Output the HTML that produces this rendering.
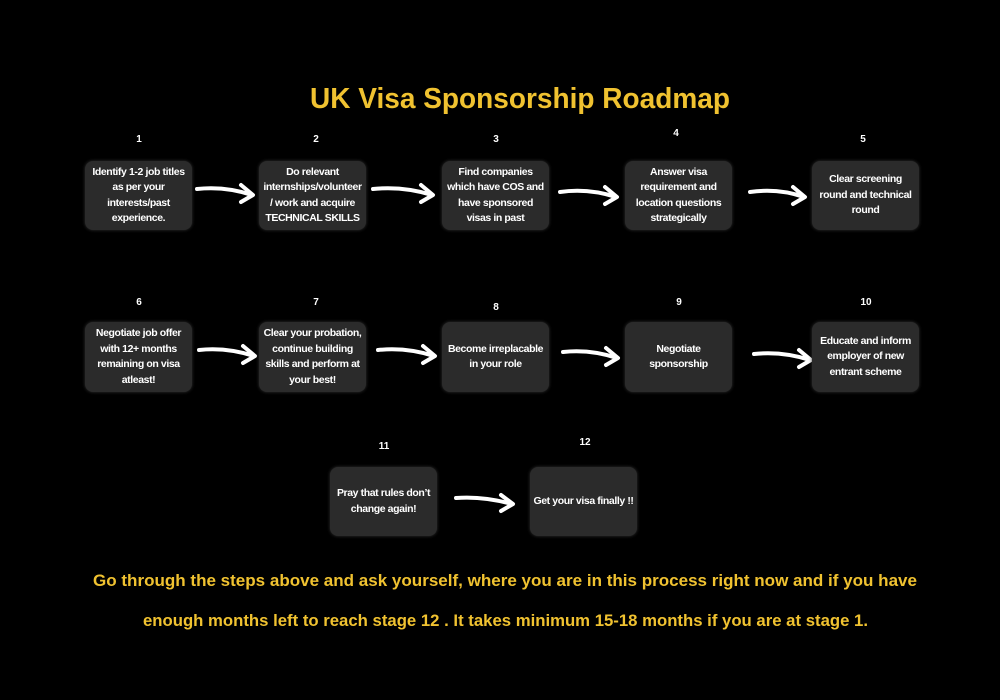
<!DOCTYPE html>
<html><head><meta charset="utf-8"><style>
body{margin:0;background:#000;width:1000px;height:700px;overflow:hidden;position:relative;font-family:"Liberation Sans",sans-serif}
.b{position:absolute;background:#2b2b2b;border-radius:8px;box-shadow:0 0 3px #333;color:#fff;font-weight:bold;font-size:10.5px;line-height:15.5px;letter-spacing:-0.4px;text-align:center;display:flex;align-items:center;justify-content:center;width:107px;box-sizing:border-box;padding:0 3px}
.n{position:absolute;color:#fff;font-weight:bold;font-size:10px;width:40px;text-align:center;margin-left:-20px}
svg{position:absolute;left:0;top:0}
</style></head><body>
<svg width="1000" height="700">
<text x="310" y="108" textLength="420" lengthAdjust="spacingAndGlyphs" font-family="Liberation Sans" font-weight="bold" font-size="29" fill="#f0c230">UK Visa Sponsorship Roadmap</text>
<text x="93" y="586" textLength="824" lengthAdjust="spacingAndGlyphs" font-family="Liberation Sans" font-weight="bold" font-size="17" fill="#f0c230">Go through the steps above and ask yourself, where you are in this process right now and if you have</text>
<text x="143" y="626" textLength="725" lengthAdjust="spacingAndGlyphs" font-family="Liberation Sans" font-weight="bold" font-size="17" fill="#f0c230">enough months left to reach stage 12 . It takes minimum 15-18 months if you are at stage 1.</text>
<g fill="none" stroke="#fff" stroke-width="4" stroke-linecap="round" stroke-linejoin="round">
<path d="M197 189 Q225 186 252 195 M241 185 L253 195 L241 202"/>
<path d="M373 189 Q403 186 432 195 M421 185 L433 195 L421 202"/>
<path d="M560 192 Q588 188 616 197 M605 187 L617 197 L605 204"/>
<path d="M750 192 Q778 188 804 197 M793 187 L805 197 L793 204"/>
<path d="M199 350 Q226 347 254 356 M243 346 L255 356 L243 363"/>
<path d="M378 350 Q406 347 434 356 M423 346 L435 356 L423 363"/>
<path d="M563 352 Q590 349 617 358 M606 348 L618 358 L606 365"/>
<path d="M754 354 Q782 351 810 360 M799 350 L811 360 L799 367"/>
<path d="M456 498 Q483 496 512 504 M501 495 L513 504 L501 511"/>
</g>
</svg>
<div class="n" style="left:139px;top:134px">1</div>
<div class="n" style="left:316px;top:134px">2</div>
<div class="n" style="left:496px;top:134px">3</div>
<div class="n" style="left:676px;top:128px">4</div>
<div class="n" style="left:863px;top:134px">5</div>
<div class="n" style="left:139px;top:297px">6</div>
<div class="n" style="left:316px;top:297px">7</div>
<div class="n" style="left:496px;top:302px">8</div>
<div class="n" style="left:679px;top:297px">9</div>
<div class="n" style="left:866px;top:297px">10</div>
<div class="n" style="left:384px;top:441px">11</div>
<div class="n" style="left:585px;top:437px">12</div>
<div class="b" style="left:85px;top:161px;height:69px">Identify 1-2 job titles as per your interests/past experience.</div>
<div class="b" style="left:259px;top:161px;height:69px">Do relevant internships/volunteer / work and acquire TECHNICAL SKILLS</div>
<div class="b" style="left:442px;top:161px;height:69px">Find companies which have COS and have sponsored visas in past</div>
<div class="b" style="left:625px;top:161px;height:69px">Answer visa requirement and location questions strategically</div>
<div class="b" style="left:812px;top:161px;height:69px">Clear screening round and technical round</div>
<div class="b" style="left:85px;top:322px;height:70px">Negotiate job offer with 12+ months remaining on visa atleast!</div>
<div class="b" style="left:259px;top:322px;height:70px">Clear your probation, continue building skills and perform at your best!</div>
<div class="b" style="left:442px;top:322px;height:70px">Become irreplacable in your role</div>
<div class="b" style="left:625px;top:322px;height:70px;padding:0 22px">Negotiate sponsorship</div>
<div class="b" style="left:812px;top:322px;height:70px">Educate and inform employer of new entrant scheme</div>
<div class="b" style="left:330px;top:467px;height:69px">Pray that rules don’t change again!</div>
<div class="b" style="left:530px;top:467px;height:69px">Get your visa finally !!</div>
</body></html>
